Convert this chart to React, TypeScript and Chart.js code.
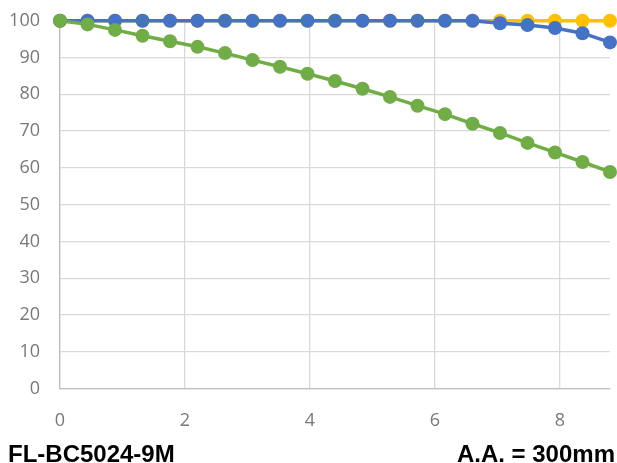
import React, { useEffect, useRef } from "react";
import { Chart, registerables } from "chart.js";

Chart.register(...registerables);

const xValues = [0, 0.44, 0.88, 1.32, 1.76, 2.2, 2.64, 3.08, 3.52, 3.96, 4.4, 4.84, 5.28, 5.72, 6.16, 6.6, 7.04, 7.48, 7.92, 8.36, 8.8];
const yellowSeries = [100, 100, 100, 100, 100, 100, 100, 100, 100, 100, 100, 100, 100, 100, 100, 100, 100, 100, 100, 100, 100];
const blueSeries = [100, 100, 100, 100, 100, 100, 100, 100, 100, 100, 100, 100, 100, 100, 100, 100, 99.3, 98.8, 98.0, 96.6, 94.1];
const greenSeries = [100, 99.0, 97.5, 95.9, 94.4, 92.9, 91.2, 89.3, 87.5, 85.6, 83.6, 81.5, 79.3, 76.9, 74.6, 72.0, 69.5, 66.8, 64.2, 61.6, 58.9];
const leftCaption = "FL-BC5024-9M";
const rightCaption = "A.A. = 300mm";

const W = 617;
const H = 463;

function toPoints(ys: number[]) {
  return xValues.map((x, i) => ({ x, y: ys[i] }));
}

function ds(label: string, ys: number[], color: string, order: number) {
  return {
    label,
    data: toPoints(ys),
    borderColor: color,
    backgroundColor: color,
    pointBackgroundColor: color,
    pointBorderColor: color,
    borderWidth: 3.5,
    pointRadius: 7,
    pointBorderWidth: 0,
    pointHoverRadius: 7,
    tension: 0,
    showLine: true,
    order,
    clip: false as any,
  };
}

export default function App() {
  const ref = useRef<HTMLCanvasElement | null>(null);

  useEffect(() => {
    document.body.style.margin = "0";
    const canvas = ref.current;
    if (!canvas) return;
    const chart = new Chart(canvas, {
      type: "scatter",
      data: {
        datasets: [
          ds("green", greenSeries, "#70AD47", 1),
          ds("blue", blueSeries, "#4472C4", 2),
          ds("yellow", yellowSeries, "#FFC000", 3),
        ],
      },
      options: {
        animation: false,
        responsive: false,
        maintainAspectRatio: false,
        devicePixelRatio: 1,
        layout: { padding: { top: 20.7, right: 3, left: 0, bottom: 0 } },
        plugins: {
          legend: { display: false },
          tooltip: { enabled: false },
          title: { display: false },
        },
        scales: {
          x: {
            type: "linear",
            min: 0,
            max: 8.8,
            afterFit: (s: any) => {
              s.height = H - 388.7;
              s.paddingLeft = 0;
              s.paddingRight = 0;
            },
            ticks: {
              stepSize: 2,
              includeBounds: false,
              color: "#787878",
              font: { family: "'Open Sans'", size: 18 },
              padding: 21,
              maxRotation: 0,
            },
            grid: { color: "#D9D9D9", lineWidth: 1.3, drawTicks: false },
            border: { color: "#BFBFBF", width: 1.3 },
          },
          y: {
            type: "linear",
            min: 0,
            max: 100,
            afterFit: (s: any) => {
              s.width = 60;
              s.paddingTop = 0;
              s.paddingBottom = 0;
            },
            ticks: {
              stepSize: 10,
              color: "#787878",
              font: { family: "'Open Sans'", size: 18 },
              padding: 20,
            },
            grid: { color: "#D9D9D9", lineWidth: 1.3, drawTicks: false },
            border: { color: "#BFBFBF", width: 1.3 },
          },
        },
      },
    });
    return () => chart.destroy();
  }, []);

  const capStyle: React.CSSProperties = {
    position: "absolute",
    top: 441.5,
    fontFamily: "'Liberation Sans', Arial, sans-serif",
    fontWeight: "bold",
    fontSize: 24,
    lineHeight: "24px",
    color: "#000",
    whiteSpace: "nowrap",
  };

  return (
    <div style={{ position: "relative", width: W, height: H, overflow: "hidden", background: "#fff" }}>
      <canvas ref={ref} width={W} height={H} style={{ position: "absolute", left: 0, top: 0, width: W, height: H }} />
      <div style={{ ...capStyle, left: 8 }}>{leftCaption}</div>
      <div style={{ ...capStyle, right: 2 }}>{rightCaption}</div>
    </div>
  );
}
